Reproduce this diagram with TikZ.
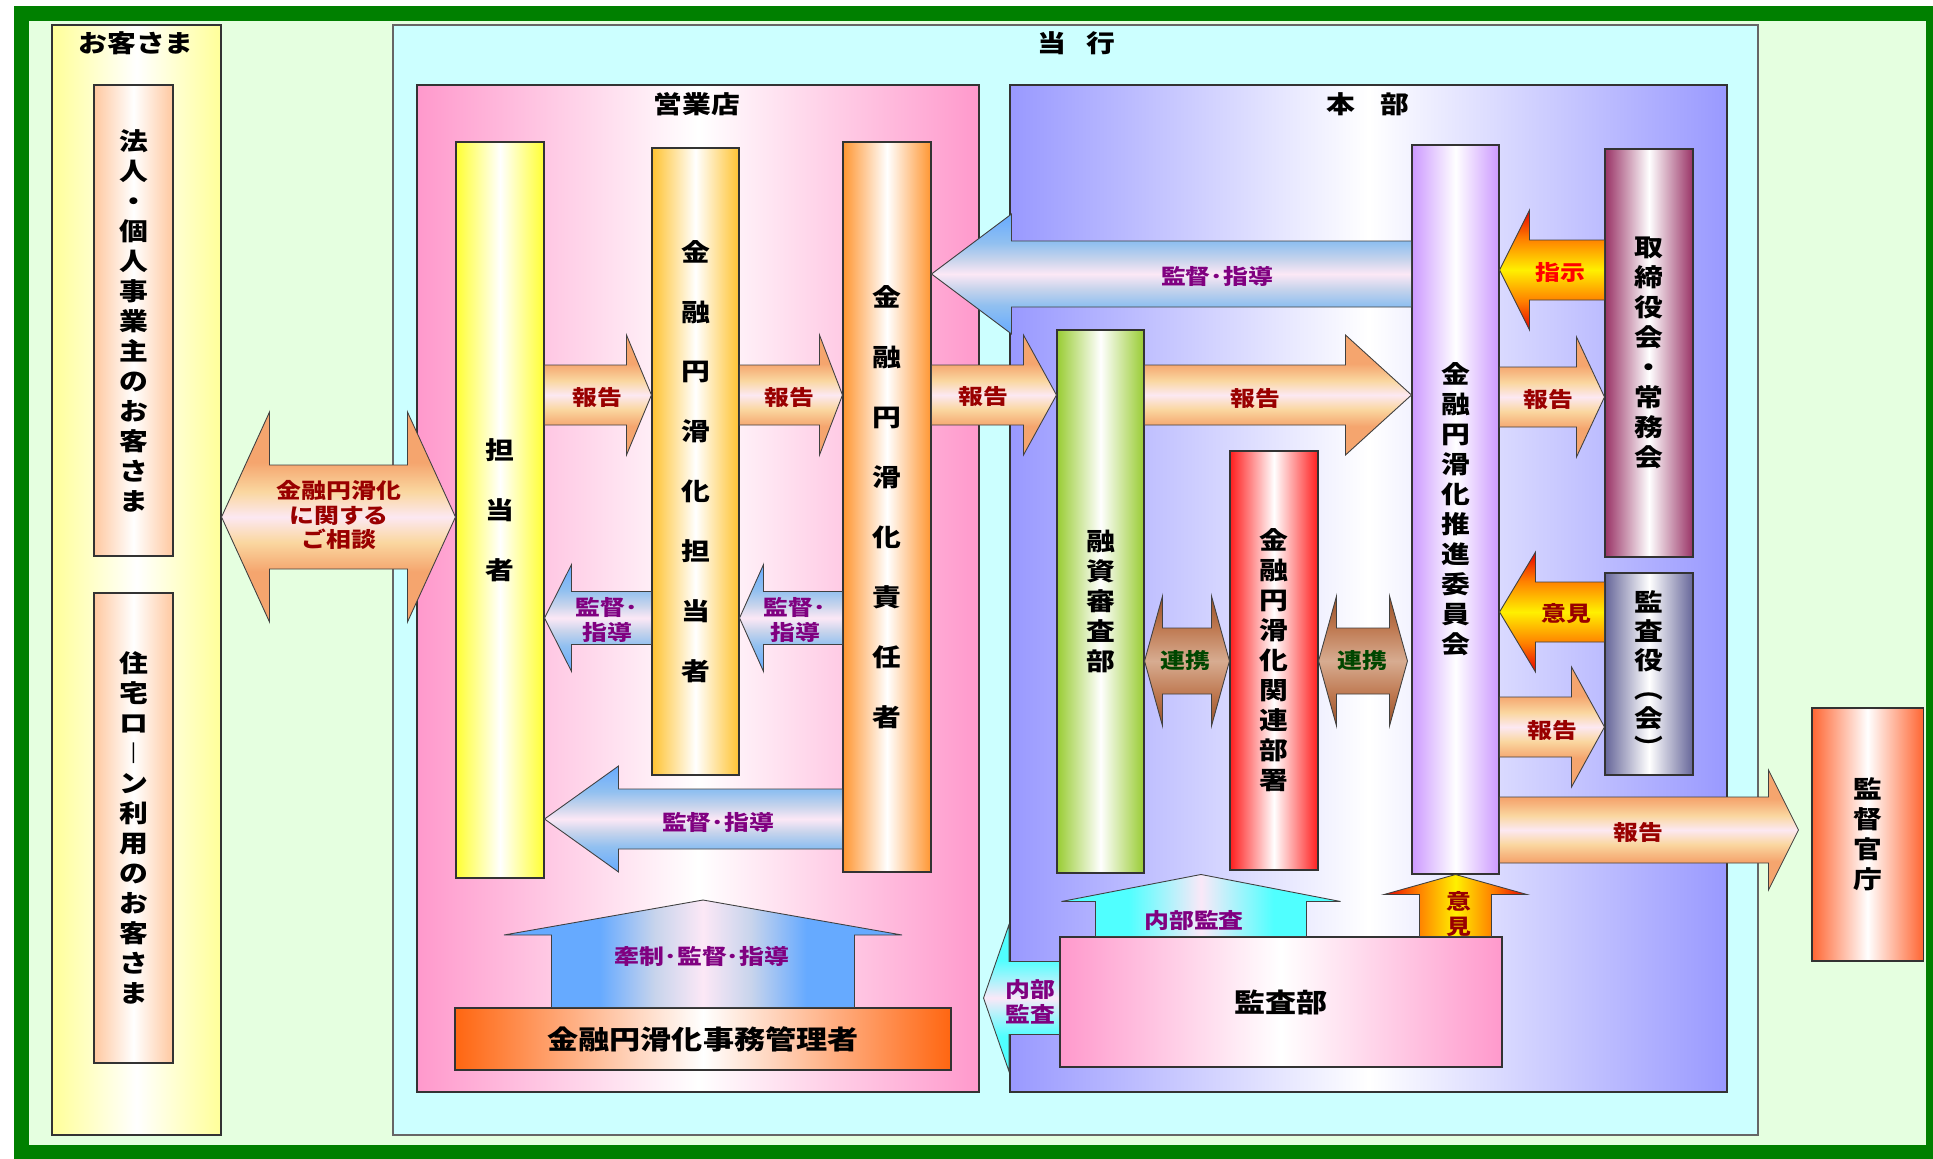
\documentclass[tikz,border=0pt]{standalone}
\usepackage{fontspec}
\setmainfont{Noto Sans CJK JP}[FakeStretch=1.18]
\usetikzlibrary{calc}

% colours
\definecolor{frameGreen}{RGB}{0,128,0}
\definecolor{bgGreen}{RGB}{229,255,224}
\definecolor{okyakuY}{RGB}{255,255,153}
\definecolor{peach}{RGB}{255,200,160}
\definecolor{tokouCyan}{RGB}{204,255,255}
\definecolor{eigyoPink}{RGB}{255,153,204}
\definecolor{honbuBlue}{RGB}{153,153,255}
\definecolor{cYellow}{RGB}{255,255,51}
\definecolor{cGold}{RGB}{255,195,50}
\definecolor{cOrange}{RGB}{255,150,50}
\definecolor{cGreen}{RGB}{153,204,51}
\definecolor{cRed}{RGB}{255,30,30}
\definecolor{cLav}{RGB}{204,153,255}
\definecolor{cMaroon}{RGB}{153,51,102}
\definecolor{cSlate}{RGB}{102,102,153}
\definecolor{cVermil}{RGB}{255,102,51}
\definecolor{cJimu}{RGB}{255,102,17}
\definecolor{tRed}{RGB}{153,0,0}
\definecolor{tPurple}{RGB}{128,0,128}
\definecolor{tGreen}{RGB}{0,70,0}
\definecolor{hkO}{RGB}{245,165,110}
\definecolor{hkY}{RGB}{250,215,160}
\definecolor{hkP}{RGB}{252,232,242}
\definecolor{kbB}{RGB}{102,170,255}
\definecolor{kbM}{RGB}{145,192,240}
\definecolor{kbL}{RGB}{200,212,236}
\definecolor{kbP}{RGB}{252,232,246}
\definecolor{rkD}{RGB}{150,80,40}
\definecolor{rkM}{RGB}{190,120,80}
\definecolor{rkP}{RGB}{215,172,145}
\definecolor{nbC}{RGB}{80,255,255}
\definecolor{nbP}{RGB}{250,232,248}
\definecolor{fR}{RGB}{230,0,0}
\definecolor{fO}{RGB}{255,128,0}
\definecolor{fY}{RGB}{255,240,0}

% shadings for the block arrows
\pgfdeclareverticalshading{reportV}{100bp}{color(0bp)=(hkO); color(25bp)=(hkO); color(37bp)=(hkO); color(44bp)=(hkY); color(50bp)=(hkP); color(56bp)=(hkY); color(63bp)=(hkO); color(75bp)=(hkO); color(100bp)=(hkO)}
\pgfdeclareverticalshading{guideV}{100bp}{color(0bp)=(kbB); color(25bp)=(kbB); color(37bp)=(kbM); color(44bp)=(kbL); color(50bp)=(kbP); color(56bp)=(kbL); color(63bp)=(kbM); color(75bp)=(kbB); color(100bp)=(kbB)}
\pgfdeclareverticalshading{linkV}{100bp}{color(0bp)=(rkD); color(25bp)=(rkD); color(37bp)=(rkM); color(50bp)=(rkP); color(63bp)=(rkM); color(75bp)=(rkD); color(100bp)=(rkD)}
\pgfdeclareverticalshading{auditV}{100bp}{color(0bp)=(nbC); color(25bp)=(nbC); color(37bp)=(nbC); color(50bp)=(nbP); color(63bp)=(nbC); color(75bp)=(nbC); color(100bp)=(nbC)}
\pgfdeclarehorizontalshading{auditH}{100bp}{color(0bp)=(nbC); color(25bp)=(nbC); color(37bp)=(nbC); color(50bp)=(nbP); color(63bp)=(nbC); color(75bp)=(nbC); color(100bp)=(nbC)}
\pgfdeclarehorizontalshading{restrainH}{100bp}{color(0bp)=(kbB); color(25bp)=(kbB); color(37bp)=(kbB); color(44bp)=(kbL); color(50bp)=(kbP); color(56bp)=(kbL); color(63bp)=(kbB); color(75bp)=(kbB); color(100bp)=(kbB)}
\pgfdeclareverticalshading{fireV}{100bp}{color(0bp)=(fR); color(25bp)=(fR); color(37bp)=(fO); color(50bp)=(fY); color(63bp)=(fO); color(75bp)=(fR); color(100bp)=(fR)}
\pgfdeclarehorizontalshading{fireH}{100bp}{color(0bp)=(fR); color(25bp)=(fR); color(37bp)=(fO); color(50bp)=(fY); color(63bp)=(fO); color(75bp)=(fR); color(100bp)=(fR)}

% fonts
\newcommand\vlab{\fontsize{13.9}{17.07}\selectfont\bfseries}
\newcommand\vlabw{\fontsize{13.9}{34.1}\selectfont\bfseries}
\newcommand\vlabk{\fontsize{13.9}{16.5}\selectfont\bfseries}
\newcommand\ttl{\fontsize{13.9}{16}\selectfont\bfseries}
\newcommand\blab{\fontsize{15}{18}\selectfont\bfseries}
\newcommand\albl{\fontsize{12}{14.2}\selectfont\bfseries}

% block arrows: style, tail, tip, shaft half, head half, head length
\newcommand\blockR[6]{\path[#1] ($(#2)+(0,-#4)$) -- ($(#3)+(-#6,-#4)$) -- ($(#3)+(-#6,-#5)$) -- (#3) -- ($(#3)+(-#6,#5)$) -- ($(#3)+(-#6,#4)$) -- ($(#2)+(0,#4)$) -- cycle;}
\newcommand\blockL[6]{\path[#1] ($(#2)+(0,-#4)$) -- ($(#3)+(#6,-#4)$) -- ($(#3)+(#6,-#5)$) -- (#3) -- ($(#3)+(#6,#5)$) -- ($(#3)+(#6,#4)$) -- ($(#2)+(0,#4)$) -- cycle;}
\newcommand\blockU[6]{\path[#1] ($(#2)+(-#4,0)$) -- ($(#3)+(-#4,#6)$) -- ($(#3)+(-#5,#6)$) -- (#3) -- ($(#3)+(#5,#6)$) -- ($(#3)+(#4,#6)$) -- ($(#2)+(#4,0)$) -- cycle;}
\newcommand\blockLR[6]{\path[#1] (#2) -- ($(#2)+(#6,-#5)$) -- ($(#2)+(#6,-#4)$) -- ($(#3)+(-#6,-#4)$) -- ($(#3)+(-#6,-#5)$) -- (#3) -- ($(#3)+(-#6,#5)$) -- ($(#3)+(-#6,#4)$) -- ($(#2)+(#6,#4)$) -- ($(#2)+(#6,#5)$) -- cycle;}

\tikzset{
  box/.style={draw=black!80, line width=0.6pt, inner sep=0pt},
  bar/.style={box, left color=#1, right color=#1, middle color=white, font=\vlab, align=center},
  wh/.style 2 args={minimum width={#1*0.02cm}, minimum height={#2*0.02cm}},
  ttlnode/.style={font=\ttl, inner sep=0pt},
  lbl/.style={font=\albl, align=center, inner sep=0pt},
  arr/.style={draw=black!75, line width=0.5pt, shade},
  reportArr/.style={arr, shading=reportV},
  guideArr/.style={arr, shading=guideV},
  linkArr/.style={arr, shading=linkV},
  auditArr/.style={arr, shading=auditV},
  auditUpArr/.style={arr, shading=auditH},
  restrainArr/.style={arr, shading=restrainH},
  fireArr/.style={arr, shading=fireV},
  fireUpArr/.style={arr, shading=fireH}
}

\begin{document}
\begin{tikzpicture}[x=0.02cm, y=-0.02cm]
  \useasboundingbox (0,0) rectangle (1933,1159);
  \fill[bgGreen] (21,13) rectangle (1934,1153);
  \draw[frameGreen, line width=0.3cm] (21.5,13.5) rectangle (1933.5,1152.5);

  % customers
  \node[bar=okyakuY, wh={169}{1110}] (okyaku) at (136.5,580) {};
  \node[ttlnode] (okyakuT) at (136,43) {お客さま};
  \node[bar=peach, wh={79}{471}] (hojin) at (133.5,320.5) {法\\人\\・\\個\\人\\事\\業\\主\\の\\お\\客\\さ\\ま};
  \node[bar=peach, wh={79}{470}] (jutaku) at (133.5,828) {住\\宅\\ロ\\︱\\ン\\利\\用\\の\\お\\客\\さ\\ま};

  % bank
  \node[box, draw=black!60, fill=tokouCyan, wh={1365}{1110}] (tokou) at (1075.5,580) {};
  \node[ttlnode] (tokouT) at (1076,43) {当\hspace{11.4pt}行};
  \node[bar=eigyoPink, wh={562}{1007}] (eigyo) at (698,588.5) {};
  \node[ttlnode] (eigyoT) at (697,104) {営業店};
  \node[bar=honbuBlue, wh={717}{1007}] (honbu) at (1368.5,588.5) {};
  \node[ttlnode] (honbuT) at (1368,104) {本\hspace{14.2pt}部};

  \node[bar=cYellow, font=\vlabw, wh={88}{736}] (tanto) at (500,510) {担\\当\\者};
  \node[bar=cGold, font=\vlabw, wh={87}{627}] (tanto2) at (695.5,461.5) {金\\融\\円\\滑\\化\\担\\当\\者};
  \node[bar=cOrange, font=\vlabw, wh={88}{730}] (sekinin) at (887,507) {金\\融\\円\\滑\\化\\責\\任\\者};
  \node[bar=cGreen, wh={87}{543}] (yushi) at (1100.5,601.5) {融\\資\\審\\査\\部};
  \node[bar=cRed, wh={88}{419}] (kanren) at (1274,660.5) {金\\融\\円\\滑\\化\\関\\連\\部\\署};
  \node[bar=cLav, wh={87}{729}] (suishin) at (1455.5,509.5) {金\\融\\円\\滑\\化\\推\\進\\委\\員\\会};
  \node[bar=cMaroon, wh={88}{408}] (torishimari) at (1649,353) {取\\締\\役\\会\\・\\常\\務\\会};
  \node[bar=cSlate, font=\vlabk, wh={88}{202}] (kansayaku) at (1649,674) {監\\査\\役\\︵\\会\\︶};
  \node[bar=cVermil, wh={111}{253}] (kantoku) at (1867.5,834.5) {監\\督\\官\\庁};
  \node[bar=eigyoPink, font=\blab, wh={442}{130}] (kansabu) at (1281,1002) {監査部};
  \node[bar=cJimu, font=\blab, wh={496}{62}] (jimu) at (703,1039) {金融円滑化事務管理者};

  % free arrow ends
  \coordinate (kantokuTip) at ($(kantoku.west |- 0,830)+(-13,0)$);
  \coordinate (suishinTip) at ($(suishin.west |- 0,661)+(-4,0)$);
  \coordinate (jimuTip) at (jimu.north |- 0,900);
  \coordinate (auditTail) at ($(kansabu.north)+(-80,0)$);
  \coordinate (auditTip) at ($(kansabu.north)+(-80,-62)$);
  \coordinate (eigyoTip) at ($(eigyo.east |- 0,998)+(4,0)$);

  % block arrows
  \blockLR{reportArr}{okyaku.east |- 0,517}{tanto.west |- 0,517}{52}{105}{48}
  \blockR{reportArr}{tanto.east |- 0,395}{tanto2.west |- 0,395}{30}{60}{25}
  \blockR{reportArr}{tanto2.east |- 0,395}{sekinin.west |- 0,395}{30}{60}{23}
  \blockR{reportArr}{sekinin.east |- 0,395}{yushi.west |- 0,395}{30}{60}{33}
  \blockR{reportArr}{yushi.east |- 0,395}{suishin.west |- 0,395}{30}{60}{66}
  \blockR{reportArr}{suishin.east |- 0,397}{torishimari.west |- 0,397}{30}{60}{28}
  \blockL{fireArr}{torishimari.west |- 0,270}{suishin.east |- 0,270}{30}{60}{30}
  \blockL{guideArr}{suishin.west |- 0,274}{sekinin.east |- 0,274}{33}{60}{80}
  \blockL{fireArr}{kansayaku.west |- 0,612}{suishin.east |- 0,612}{30}{60}{36}
  \blockR{reportArr}{suishin.east |- 0,727}{kansayaku.west |- 0,727}{30}{60}{33}
  \blockR{reportArr}{suishin.east |- 0,830}{kantokuTip}{33}{60}{30}
  \blockL{guideArr}{tanto2.west |- 0,618}{tanto.east |- 0,618}{26.5}{53.5}{27}
  \blockL{guideArr}{sekinin.west |- 0,618}{tanto2.east |- 0,618}{26.5}{53.5}{24}
  \blockL{guideArr}{sekinin.west |- 0,819}{tanto.east |- 0,819}{30}{53}{74}
  \blockLR{linkArr}{yushi.east |- 0,661}{kanren.west |- 0,661}{33}{65}{18}
  \blockLR{linkArr}{kanren.east |- 0,661}{suishinTip}{33}{65}{18}
  \blockU{restrainArr}{jimu.north}{jimuTip}{151.5}{199}{35}
  \blockU{auditUpArr}{auditTail}{auditTip}{105.5}{139.5}{27}
  \blockU{fireUpArr}{kansabu.north -| suishin.south}{suishin.south}{36}{71.5}{20}
  \blockL{auditArr}{kansabu.west |- 0,998}{eigyoTip}{36.5}{73.5}{25.5}

  % arrow labels
  \node[lbl, text=tRed] (sodanL) at (339,515) {金融円滑化\\に関する\\ご相談};
  \node[lbl, text=tRed] (rep1L) at (597,397) {報告};
  \node[lbl, text=tRed] (rep2L) at (789,397) {報告};
  \node[lbl, text=tRed] (rep3L) at (983,396) {報告};
  \node[lbl, text=tRed] (rep4L) at (1255,398) {報告};
  \node[lbl, text=tRed] (rep5L) at (1548,399) {報告};
  \node[lbl, text=red] (shijiL) at (1560,272) {指示};
  \node[lbl, text=tPurple] (guide1L) at (1217,276) {監督･指導};
  \node[lbl, text=tRed] (iken1L) at (1566,614) {意見};
  \node[lbl, text=tRed] (rep6L) at (1552,730) {報告};
  \node[lbl, text=tRed] (rep7L) at (1638,832) {報告};
  \node[lbl, text=tPurple] (guide2L) at (607,620) {監督･\\指導};
  \node[lbl, text=tPurple] (guide3L) at (795,620) {監督･\\指導};
  \node[lbl, text=tPurple] (guide4L) at (718,822) {監督･指導};
  \node[lbl, text=tGreen] (link1L) at (1185,661) {連携};
  \node[lbl, text=tGreen] (link2L) at (1362,661) {連携};
  \node[lbl, text=tPurple] (restrainL) at (702,956) {牽制･監督･指導};
  \node[lbl, text=tPurple] (audit1L) at (1194,920) {内部監査};
  \node[lbl, text=tRed] (iken2L) at (1459,914) {意\\見};
  \node[lbl, text=tPurple] (audit2L) at (1030,1002) {内部\\監査};
\end{tikzpicture}
\end{document}
